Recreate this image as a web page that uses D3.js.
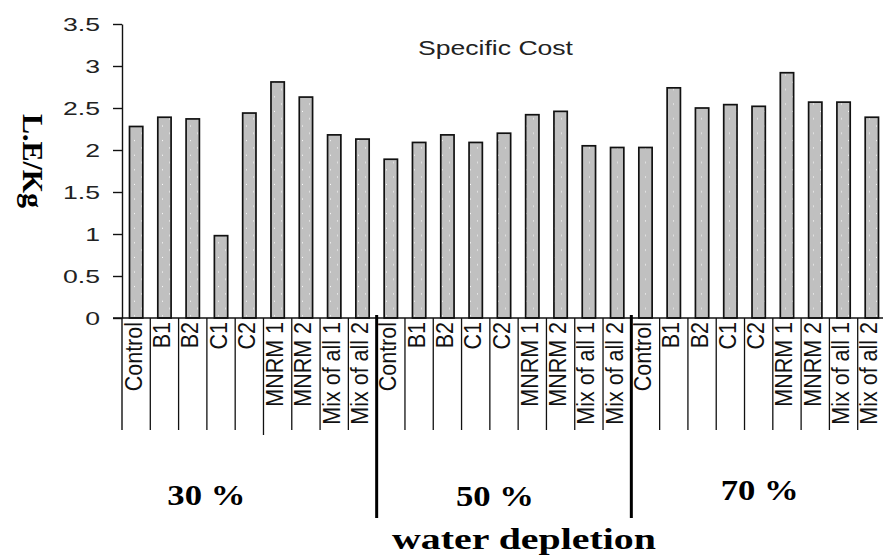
<!DOCTYPE html>
<html>
<head>
<meta charset="utf-8">
<script src="https://cdn.jsdelivr.net/npm/d3@7"></script>
<style>
  html, body { margin: 0; padding: 0; background: #fff; }
  svg { display: block; }
</style>
</head>
<body>
<svg id="chart" width="883" height="558"></svg>
<script>
// ---- data ----
const categories = ["Control", "B1", "B2", "C1", "C2", "MNRM 1", "MNRM 2", "Mix of all 1", "Mix of all 2"];
const groups = ["30 %", "50 %", "70 %"];
const values30 = [2.28, 2.39, 2.37, 0.98, 2.44, 2.81, 2.63, 2.18, 2.13];
const values50 = [1.89, 2.09, 2.18, 2.09, 2.20, 2.42, 2.46, 2.05, 2.03];
const values70 = [2.03, 2.74, 2.50, 2.54, 2.52, 2.92, 2.57, 2.57, 2.39];
const yTickValues = [0, 0.5, 1, 1.5, 2, 2.5, 3, 3.5];
const yTickLabels = ["0", "0.5", "1", "1.5", "2", "2.5", "3", "3.5"];
const title = "Specific Cost";
const yTitle = "L.E/Kg";
const xTitle = "water depletion";

// ---- build rows ----
const series = [values30, values50, values70];
const rows = [];
series.forEach((vals, g) => vals.forEach((v, c) => rows.push({ id: g * 9 + c, group: g, cat: categories[c], value: v })));

const svg = d3.select("#chart");
const left = 122, right = 886, y0 = 318, yTop = 24;

const x = d3.scaleBand().domain(rows.map(d => d.id)).range([left, right]).paddingInner(0.53).paddingOuter(0.265);
const slot = d3.scaleBand().domain(rows.map(d => d.id)).range([left, right]).padding(0);
const y = d3.scaleLinear().domain([0, 3.5]).range([y0, yTop]);

// pattern (white dots)
const defs = svg.append("defs");
const pat = defs.append("pattern").attr("id", "dots").attr("patternUnits", "userSpaceOnUse")
  .attr("width", 14).attr("height", 14.6);
pat.append("rect").attr("width", 14).attr("height", 14.6).attr("fill", "#c0c0c0");
pat.append("rect").attr("x", 1).attr("y", 1.4).attr("width", 1).attr("height", 1).attr("fill", "#ffffff");
pat.append("rect").attr("x", 8).attr("y", 8.7).attr("width", 1).attr("height", 1).attr("fill", "#ffffff");

function stretch(sel, k) {
  sel.each(function () {
    const len = this.getComputedTextLength();
    d3.select(this).attr("textLength", len * k).attr("lengthAdjust", "spacingAndGlyphs");
  });
}

// bars
svg.append("g").selectAll("rect").data(rows).join("rect")
  .attr("x", d => x(d.id))
  .attr("y", d => y(d.value))
  .attr("width", x.bandwidth())
  .attr("height", d => y(0) - y(d.value))
  .attr("fill", "url(#dots)")
  .attr("stroke", "#111")
  .attr("stroke-width", 1.7);

// y axis
const yAxis = svg.append("g").attr("transform", `translate(${left},0)`)
  .call(d3.axisLeft(y).tickValues(yTickValues).tickFormat((d, i) => yTickLabels[i]).tickSize(9).tickSizeOuter(0));
yAxis.select(".domain").attr("stroke", "#111").attr("stroke-width", 1.4);
yAxis.selectAll(".tick line").attr("stroke", "#111").attr("stroke-width", 1.4);
yAxis.selectAll(".tick text")
  .attr("x", -22)
  .attr("font-family", "'Liberation Sans', Arial, sans-serif")
  .attr("font-size", 19)
  .attr("fill", "#222")
  .call(stretch, 1.4);

// axis line continuing down, and horizontal axis
svg.append("line").attr("x1", left).attr("x2", left).attr("y1", y0).attr("y2", 430)
  .attr("stroke", "#111").attr("stroke-width", 1.4);
svg.append("line").attr("x1", left - 9).attr("x2", 883).attr("y1", y(0)).attr("y2", y(0))
  .attr("stroke", "#111").attr("stroke-width", 1.4);

// category separators
const sepIds = rows.map(d => d.id).filter(i => i > 0 && i % 9 !== 0);
svg.append("g").selectAll("line").data(sepIds).join("line")
  .attr("x1", d => slot(d)).attr("x2", d => slot(d))
  .attr("y1", y0).attr("y2", d => (d === 5 ? 435 : 430))
  .attr("stroke", "#111").attr("stroke-width", 1.3);

// group separators
svg.append("g").selectAll("line").data([9, 18]).join("line")
  .attr("x1", d => slot(d)).attr("x2", d => slot(d))
  .attr("y1", y0 - 3).attr("y2", 518)
  .attr("stroke", "#000").attr("stroke-width", 3);

// category labels
svg.append("g").selectAll("text").data(rows).join("text")
  .attr("transform", d => `translate(${slot(d.id) + slot.bandwidth() / 2 + 5.5},${y0 + 4}) scale(1.15,1) rotate(-90)`)
  .attr("text-anchor", "end")
  .attr("font-family", "'Liberation Sans', Arial, sans-serif")
  .attr("font-size", 21.5)
  .attr("fill", "#111")
  .text(d => d.cat);

// title
svg.append("text").attr("x", 418).attr("y", 55)
  .attr("font-family", "'Liberation Sans', Arial, sans-serif")
  .attr("font-size", 20).attr("fill", "#222")
  .attr("textLength", 155).attr("lengthAdjust", "spacingAndGlyphs")
  .text(title);

// y title
svg.append("text")
  .attr("transform", "translate(23,161) rotate(90)")
  .attr("text-anchor", "middle")
  .attr("font-family", "'Liberation Serif', 'Times New Roman', serif")
  .attr("font-weight", "bold")
  .attr("font-size", 30)
  .attr("fill", "#000")
  .text(yTitle);

// group labels
const groupOffsets = [-43, -9, 1];
const groupBase = [505, 506, 500];
svg.append("g").selectAll("text").data(groups).join("text")
  .attr("x", (d, i) => slot(i * 9) + slot.step() * 4.5 + groupOffsets[i])
  .attr("y", (d, i) => groupBase[i])
  .attr("text-anchor", "middle")
  .attr("font-family", "'Liberation Serif', 'Times New Roman', serif")
  .attr("font-weight", "bold")
  .attr("font-size", 30)
  .attr("fill", "#000")
  .attr("textLength", 78).attr("lengthAdjust", "spacingAndGlyphs")
  .text(d => d);

// x title
svg.append("text").attr("x", 524).attr("y", 549)
  .attr("text-anchor", "middle")
  .attr("font-family", "'Liberation Serif', 'Times New Roman', serif")
  .attr("font-weight", "bold")
  .attr("font-size", 30)
  .attr("fill", "#000")
  .attr("textLength", 264).attr("lengthAdjust", "spacingAndGlyphs")
  .text(xTitle);
</script>
</body>
</html>
